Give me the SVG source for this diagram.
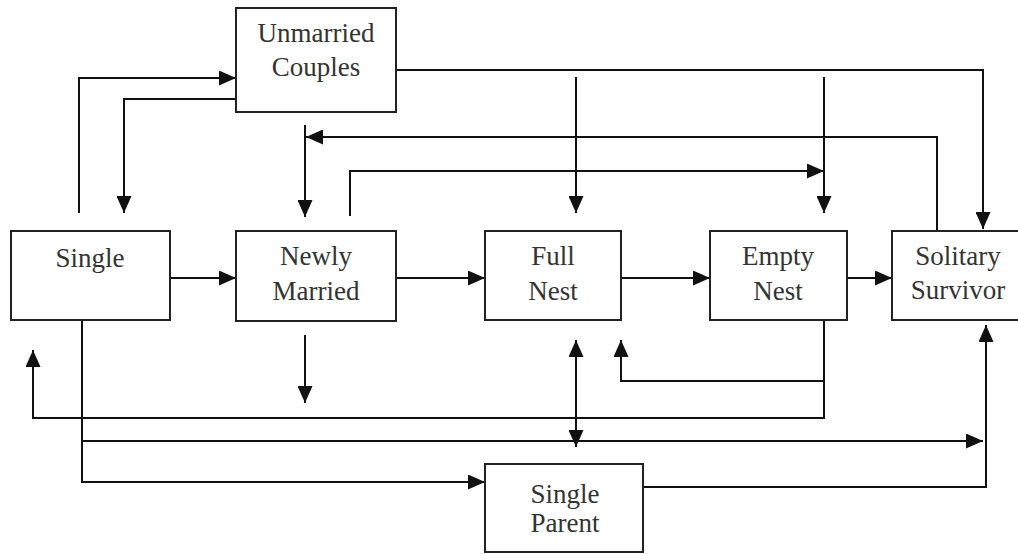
<svg xmlns="http://www.w3.org/2000/svg" width="1018" height="554" viewBox="0 0 1018 554">
<style>
.box{fill:#fff;stroke:#222;stroke-width:2}
.lbl{font-family:"Liberation Serif","Times New Roman",serif;font-size:27px;fill:#333;text-anchor:middle}
.c{fill:none;stroke:#111;stroke-width:2}
.a{marker-end:url(#ah)}
</style>
<defs>
<marker id="ah" markerUnits="userSpaceOnUse" markerWidth="17" markerHeight="15" refX="17" refY="7.5" orient="auto-start-reverse" viewBox="0 0 17 15">
<path d="M0,0 L17,7.5 L0,15 z" fill="#111"/>
</marker>
</defs>
<rect width="1018" height="554" fill="#fff"/>
<g id="connectors">
<path class="c a" d="M79,213 V78 H236"/>
<path class="c a" d="M236,99 H124 V213"/>
<path class="c a" d="M305,125 V217"/>
<path class="c a" d="M937,230 V137 H306"/>
<path class="c a" d="M350,216 V171 H824"/>
<path class="c a" d="M396,70 H983 V229"/>
<path class="c a" d="M576,77 V213"/>
<path class="c a" d="M824,77 V213"/>
<path class="c a" d="M170,278 H236"/>
<path class="c a" d="M396,278 H485"/>
<path class="c a" d="M621,278 H710"/>
<path class="c a" d="M847,278 H892"/>
<path class="c a" d="M305,335 V403"/>
<path class="c a" d="M824,320 V418 H33 V350"/>
<path class="c a" d="M824,381 H621 V340"/>
<path class="c a" d="M576,340 V447" style="marker-start:url(#ah)"/>
<path class="c a" d="M82,441 H983"/>
<path class="c a" d="M82,320 V482 H485"/>
<path class="c a" d="M638,487 H986 V325"/>
</g>
<g id="unmarried"><rect class="box" x="236" y="8" width="160" height="104"/><text class="lbl" x="316" y="42">Unmarried</text><text class="lbl" x="316" y="76">Couples</text></g>
<g id="single"><rect class="box" x="11" y="231" width="159" height="89"/><text class="lbl" x="90" y="267">Single</text></g>
<g id="newly"><rect class="box" x="236" y="231" width="160" height="90"/><text class="lbl" x="316" y="265">Newly</text><text class="lbl" x="316" y="300">Married</text></g>
<g id="full"><rect class="box" x="485" y="231" width="136" height="89"/><text class="lbl" x="553" y="265">Full</text><text class="lbl" x="553" y="300">Nest</text></g>
<g id="empty"><rect class="box" x="710" y="231" width="137" height="89"/><text class="lbl" x="778" y="265">Empty</text><text class="lbl" x="778" y="300">Nest</text></g>
<g id="solitary"><rect class="box" x="892" y="231" width="132" height="89"/><text class="lbl" x="958" y="265">Solitary</text><text class="lbl" x="958" y="299">Survivor</text></g>
<g id="singleparent"><rect class="box" x="485" y="464" width="158" height="88"/><text class="lbl" x="565" y="503">Single</text><text class="lbl" x="565" y="532">Parent</text></g>
</svg>
